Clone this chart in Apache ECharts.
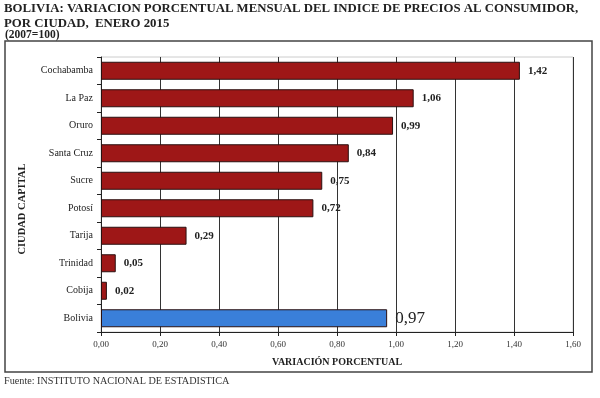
<!DOCTYPE html>
<html><head><meta charset="utf-8">
<script src="https://cdn.jsdelivr.net/npm/echarts@6/dist/echarts.min.js"></script>
<style>html,body{margin:0;padding:0;background:#fff}#c{width:600px;height:398px}</style>
</head><body><div id="c"></div>
<script>
const cities = ['Cochabamba','La Paz','Oruro','Santa Cruz','Sucre','Potosí','Tarija','Trinidad','Cobija','Bolivia'];
const values = [1.42,1.06,0.99,0.84,0.75,0.72,0.29,0.05,0.02,0.97];
const xTicks = {min:0, max:1.6, interval:0.2};
const titleLine1 = 'BOLIVIA: VARIACION PORCENTUAL MENSUAL DEL INDICE DE PRECIOS AL CONSUMIDOR,';
const titleLine2 = 'POR CIUDAD,  ENERO 2015';
const titleLine3 = '(2007=100)';
const sourceText = 'Fuente: INSTITUTO NACIONAL DE ESTADISTICA';
const yAxisTitle = 'CIUDAD CAPITAL';
const xAxisTitle = 'VARIACIÓN PORCENTUAL';

const serif = '"Liberation Serif","DejaVu Serif",serif';
const comma = v => v.toFixed(2).replace('.', ',');

const chart = echarts.init(document.getElementById('c'));
chart.setOption({
  animation:false,
  backgroundColor:'#fff',
  title:[
    {text:titleLine1, left:4, top:2, padding:0, textStyle:{fontFamily:serif,fontSize:12.8,fontWeight:'bold',color:'#222'}},
    {text:titleLine2, left:4, top:17, padding:0, textStyle:{fontFamily:serif,fontSize:12.8,fontWeight:'bold',color:'#222'}},
    {text:titleLine3, left:5, top:29, padding:0, textStyle:{fontFamily:serif,fontSize:11.5,fontWeight:'bold',color:'#222'}},
    {text:sourceText, left:4, top:376, padding:0, textStyle:{fontFamily:serif,fontSize:10.2,fontWeight:'normal',color:'#333'}}
  ],
  graphic:[
    {type:'rect', shape:{x:5,y:41,width:587,height:331}, style:{fill:'none',stroke:'#444',lineWidth:1.5}, silent:true},
    {type:'text', x:22, y:209, rotation:Math.PI/2, silent:true,
      style:{text:yAxisTitle, align:'center', verticalAlign:'middle', fontFamily:serif, fontSize:10.5, fontWeight:'bold', fill:'#222'}}
  ],
  grid:{left:101,right:27,top:57,bottom:66,show:true,borderColor:'#ccc',borderWidth:1},
  xAxis:{type:'value',min:xTicks.min,max:xTicks.max,interval:xTicks.interval,
    name:xAxisTitle,nameLocation:'middle',nameGap:25,
    nameTextStyle:{fontFamily:serif,fontSize:10,fontWeight:'bold',color:'#222'},
    axisLine:{show:true,lineStyle:{color:'#222'}},
    axisTick:{show:true,length:4,lineStyle:{color:'#222'}},
    axisLabel:{fontFamily:serif,fontSize:9,color:'#333',margin:8,formatter:v=>comma(v)},
    splitLine:{show:true,lineStyle:{color:'#333',width:1}}},
  yAxis:{type:'category',data:cities,inverse:true,
    axisLine:{show:true,lineStyle:{color:'#222'}},
    axisTick:{show:true,length:4,lineStyle:{color:'#222'}},
    axisLabel:{fontFamily:serif,fontSize:10,color:'#222',margin:8}},
  series:[{type:'bar',barWidth:18,
    data:values.map((v,i)=>{
      const isNat = cities[i]==='Bolivia';
      return {value:v,
        itemStyle:{color:isNat?'#3a7fd9':'#9e1717',borderColor:'#2a1010',borderWidth:1},
        label:isNat?{fontSize:17,fontWeight:'normal'}:{}};
    }),
    label:{show:true,position:'right',distance:8,fontFamily:serif,fontSize:11,fontWeight:'bold',color:'#222',
      formatter:p=>comma(p.value)}
  }]
});
</script></body></html>
